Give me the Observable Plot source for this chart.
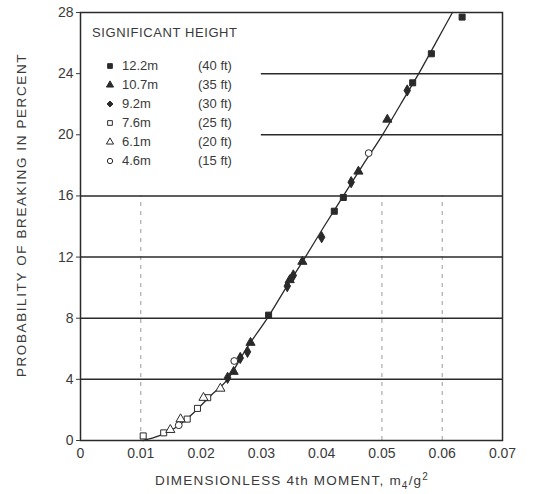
<!DOCTYPE html>
<html><head><meta charset="utf-8">
<script src="https://cdn.jsdelivr.net/npm/d3@7"></script>
<script src="https://cdn.jsdelivr.net/npm/@observablehq/plot@0.6"></script>
<style>
body{margin:0;background:#fff;}
#wrap{position:relative;width:534px;height:494px;font-family:"Liberation Sans",Arial,sans-serif;color:#3a3a3a;}
.ov{position:absolute;white-space:nowrap;}
#legend{position:absolute;left:92px;top:25px;font-size:13px;}
#legend .t{letter-spacing:0.6px;height:16px;line-height:16px;margin-bottom:15px;}
#legend .row{display:flex;align-items:center;height:19px;}
#legend .m{width:30px;}
#legend .m svg{margin-left:11px;display:block;}
#legend .h{width:76px;}
</style></head><body><div id="wrap"></div>
<script>
// ---- data ----
const xTicks = [0, 0.01, 0.02, 0.03, 0.04, 0.05, 0.06, 0.07];
const xTickLabels = ["0", "0.01", "0.02", "0.03", "0.04", "0.05", "0.06", "0.07"];
const yTicks = [0, 4, 8, 12, 16, 20, 24, 28];
const seriesNames = ["12.2m", "10.7m", "9.2m", "7.6m", "6.1m", "4.6m"];
const seriesFeet = ["(40 ft)", "(35 ft)", "(30 ft)", "(25 ft)", "(20 ft)", "(15 ft)"];
const seriesSymbols = ["square", "triangle", "diamond", "square", "triangle", "circle"];
const seriesFilled = [true, true, true, false, false, false];

const h122x = [0.0633, 0.0582, 0.0551, 0.0436, 0.0421, 0.0312];
const h122y = [27.7, 25.3, 23.4, 15.9, 15.0, 8.2];
const h107x = [0.0509, 0.0461, 0.0368, 0.0347, 0.0282, 0.0254];
const h107y = [21.0, 17.6, 11.7, 10.5, 6.4, 4.5];
const h92x = [0.0542, 0.0449, 0.0400, 0.0353, 0.0343, 0.0277, 0.0265, 0.0244];
const h92y = [22.9, 16.9, 13.3, 10.8, 10.1, 5.8, 5.4, 4.1];
const h76x = [0.0211, 0.0194, 0.0177, 0.0138, 0.0104];
const h76y = [2.8, 2.1, 1.4, 0.5, 0.3];
const h61x = [0.0232, 0.0204, 0.0166, 0.0149];
const h61y = [3.4, 2.8, 1.4, 0.7];
const h46x = [0.0478, 0.0255, 0.0163];
const h46y = [18.8, 5.2, 1.0];

const curveX = [0.0104, 0.0130, 0.0160, 0.0190, 0.0215, 0.0244, 0.0275, 0.0310, 0.0341, 0.0373, 0.0404, 0.0436, 0.0468, 0.0501, 0.0531, 0.0561, 0.0589, 0.0617];
const curveY = [0, 0.3, 0.9, 1.9, 2.9, 4.0, 6.0, 8.0, 10.0, 12.0, 14.0, 16.0, 18.0, 20.0, 22.0, 24.0, 26.0, 28.0];

const fullGridY = [4, 8, 12, 16];
const partGridY = [20, 24];
const partGridFrom = 0.03;
const dashGridX = [0.01, 0.05, 0.06];

// ---- build ----
const seriesX = [h122x, h107x, h92x, h76x, h61x, h46x];
const seriesY = [h122y, h107y, h92y, h76y, h61y, h46y];
const points = [];
seriesX.forEach((xs, s) => xs.forEach((x, i) => points.push({x, y: seriesY[s][i], s})));
const curve = curveX.map((x, i) => ({x, y: curveY[i]}));
const ink = "#2a2a2a";

const chart = Plot.plot({
  width: 534, height: 494,
  marginLeft: 80, marginRight: 32, marginTop: 12, marginBottom: 54,
  x: {domain: [0, 0.07]},
  y: {domain: [0, 28]},
  style: {fontFamily: '"Liberation Sans", Arial, sans-serif', fontSize: "14px", color: "#3a3a3a", background: "#fff"},
  marks: [
    Plot.ruleX(dashGridX, {y1: 0, y2: 16, stroke: "#9a9a9a", strokeWidth: 1, strokeDasharray: "4,5"}),
    Plot.ruleY(fullGridY, {stroke: ink, strokeWidth: 1.5}),
    Plot.ruleY(partGridY, {x1: partGridFrom, x2: 0.07, stroke: ink, strokeWidth: 1.5}),
    Plot.frame({stroke: ink, strokeWidth: 1.5}),
    Plot.axisY({ticks: yTicks, tickSize: 4, tickPadding: 3, label: null, fontSize: 14}),
    Plot.axisX({ticks: xTicks, tickSize: 0, tickPadding: 8, label: null, fontSize: 14,
      tickFormat: d => xTickLabels[xTicks.indexOf(d)]}),
    Plot.line(curve, {x: "x", y: "y", curve: "monotone-x", stroke: ink, strokeWidth: 1.3}),
    Plot.dot(points, {x: "x", y: "y", r: 3.4,
      symbol: d => seriesSymbols[d.s],
      fill: d => seriesFilled[d.s] ? ink : "#fff",
      stroke: ink, strokeWidth: 1})
  ]
});
const wrap = document.getElementById("wrap");
wrap.appendChild(chart);

// axis titles
const yl = document.createElement("div");
yl.className = "ov";
yl.style.cssText = "left:21px;top:215px;font-size:13.5px;letter-spacing:1.6px;transform:translate(-50%,-50%) rotate(-90deg);";
yl.textContent = "PROBABILITY OF BREAKING IN PERCENT";
wrap.appendChild(yl);

const xl = document.createElement("div");
xl.className = "ov";
xl.style.cssText = "left:292px;top:481px;font-size:13.5px;letter-spacing:1.2px;transform:translate(-50%,-50%);";
xl.innerHTML = "DIMENSIONLESS 4th MOMENT, m<sub style='font-size:10px'>4</sub>/g<sup style='font-size:10px'>2</sup>";
wrap.appendChild(xl);

// legend
const symMap = {square: d3.symbolSquare, triangle: d3.symbolTriangle, diamond: d3.symbolDiamond2, circle: d3.symbolCircle};
const lg = document.createElement("div");
lg.id = "legend";
let html = "<div class='t'>SIGNIFICANT HEIGHT</div>";
seriesNames.forEach((n, i) => {
  const p = d3.symbol(symMap[seriesSymbols[i]], 22)();
  html += `<div class='row'><div class='m'><svg width='14' height='14' viewBox='-7 -7 14 14'><path d='${p}' fill='${seriesFilled[i] ? ink : "#fff"}' stroke='${ink}' stroke-width='1'/></svg></div><div class='h'>${n}</div><div>${seriesFeet[i]}</div></div>`;
});
lg.innerHTML = html;
wrap.appendChild(lg);
</script></body></html>
